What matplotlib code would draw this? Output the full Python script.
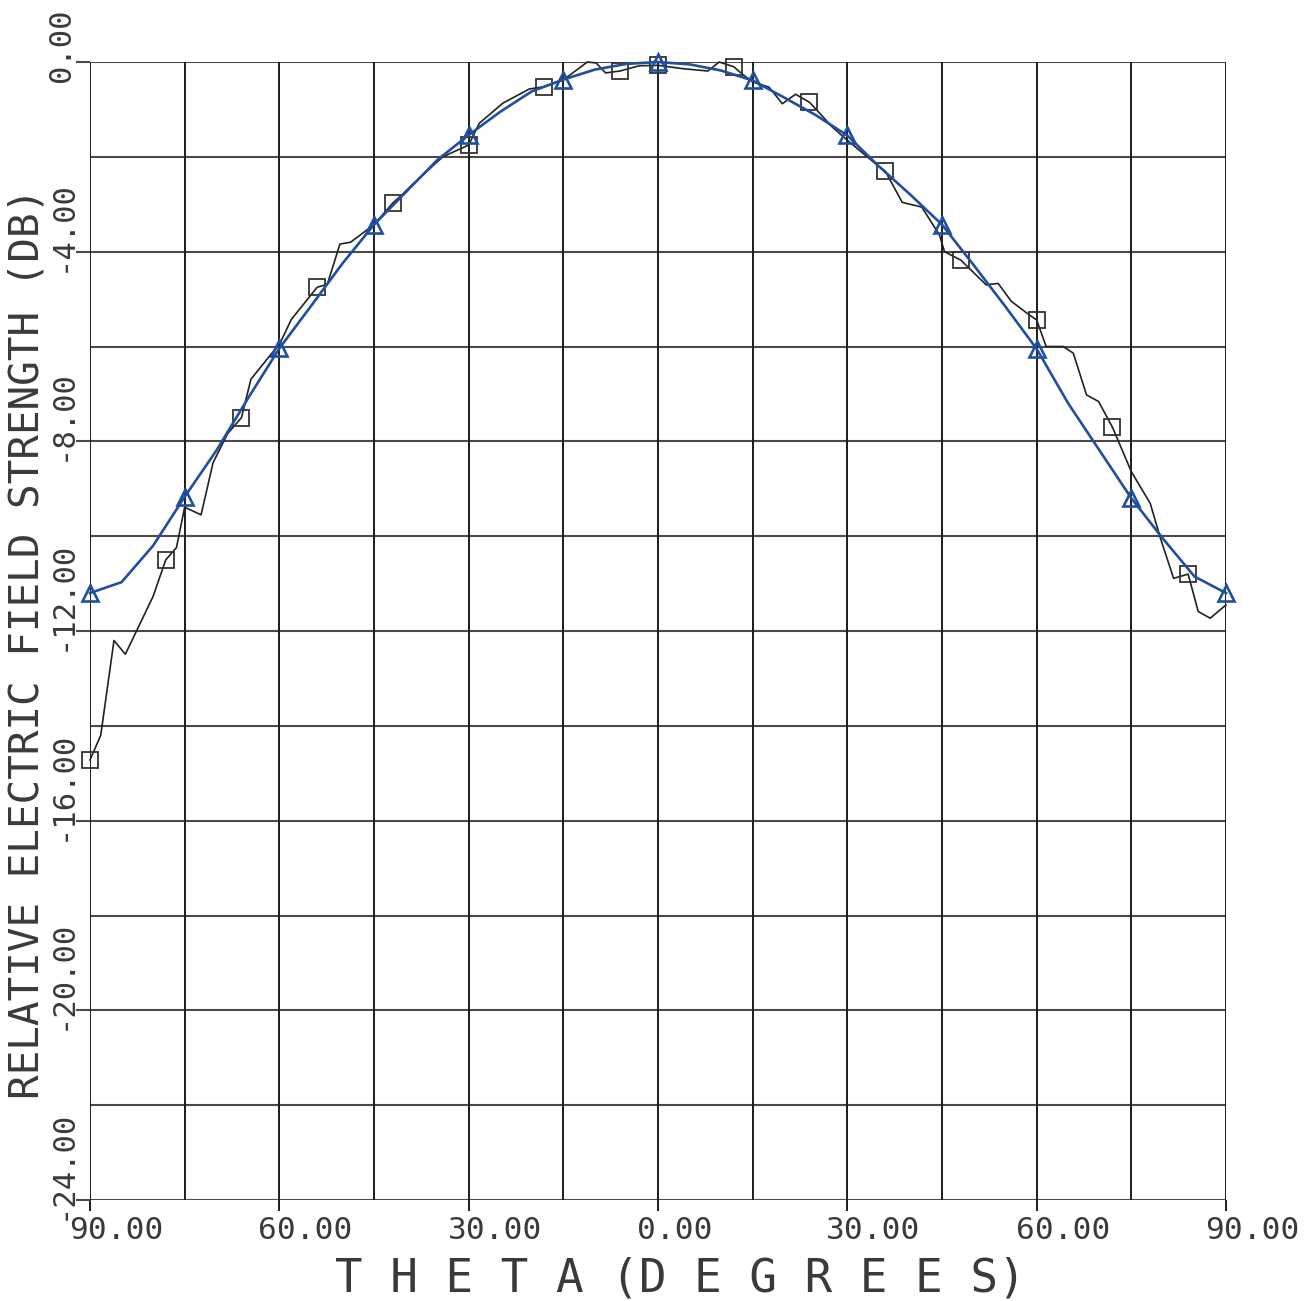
import numpy as np
import matplotlib
matplotlib.use("Agg")
import matplotlib.pyplot as plt
from matplotlib.transforms import blended_transform_factory

# ---------------- data ----------------
theory_theta = [-90, -85, -80, -75, -70, -65, -60, -55, -50, -45, -40, -35, -30, -25, -20,
                -15, -10, -5, 0, 5, 10, 15, 20, 25, 30, 35, 40, 45, 50, 55, 60, 65, 70,
                75, 80, 85, 90]
theory_db = [-11.2, -10.97, -10.2, -9.17, -8.2, -7.1, -6.04, -5.15, -4.25, -3.43, -2.75,
             -2.07, -1.54, -1.05, -0.62, -0.37, -0.16, -0.04, 0.0, -0.05, -0.18, -0.39,
             -0.75, -1.12, -1.55, -2.2, -2.8, -3.43, -4.28, -5.15, -6.05, -7.2, -8.2,
             -9.2, -10.05, -10.85, -11.2]
triangle_theta = [-90, -75, -60, -45, -30, -15, 0, 15, 30, 45, 60, 75, 90]

meas_theta = [-90, -88.3, -86.2, -84.4, -80.0, -78, -76.3, -75, -72.4, -70.5, -68.2, -66,
              -64.5, -61.3, -60, -58.1, -54, -52.4, -50.4, -48.7, -45, -42, -40.4, -38.8,
              -34.1, -30, -28.3, -24.6, -20.4, -18, -15, -11.2, -9.8, -8.3, -6, -3, 0,
              3.9, 7.9, 9.7, 12, 13.4, 15, 17.6, 19.7, 21.8, 24, 25, 27.6, 30, 34.5, 36,
              38.7, 41.8, 44.6, 45.4, 48, 52, 53.9, 56, 58.9, 60, 61.5, 64.2, 65.8, 67.9,
              69.8, 72, 75, 78, 79.6, 81.7, 84, 85.6, 87.5, 90]
meas_db = [-14.72, -14.2, -12.2, -12.49, -11.27, -10.5, -10.24, -9.39, -9.55, -8.45, -7.84,
           -7.5, -6.69, -6.16, -5.96, -5.43, -4.75, -4.69, -3.84, -3.80, -3.43, -2.97,
           -2.78, -2.57, -2.0, -1.75, -1.29, -0.87, -0.57, -0.52, -0.38, 0.0, -0.02, -0.23,
           -0.19, -0.08, -0.07, -0.14, -0.19, 0.0, -0.1, -0.26, -0.42, -0.53, -0.88, -0.68,
           -0.85, -0.99, -1.37, -1.65, -2.15, -2.3, -2.96, -3.06, -3.65, -4.0, -4.18, -4.70,
           -4.67, -5.05, -5.34, -5.44, -6.0, -6.0, -6.14, -7.02, -7.16, -7.7, -8.64, -9.31,
           -10.04, -10.89, -10.8, -11.59, -11.73, -11.45]
square_theta = [-90, -78, -66, -54, -42, -30, -18, -6, 0, 12, 24, 36, 48, 60, 72, 84]

x_tick_values = [-90, -60, -30, 0, 30, 60, 90]
x_tick_labels = ["90.00", "60.00", "30.00", "0.00", "30.00", "60.00", "90.00"]
y_tick_values = [0, -4, -8, -12, -16, -20, -24]
y_tick_labels = ["0.00", "-4.00", "-8.00", "-12.00", "-16.00", "-20.00", "-24.00"]
x_grid = list(range(-90, 91, 15))
y_grid = list(range(-24, 1, 2))

x_label = "T H E T A (D E G R E E S)"
y_label = "RELATIVE ELECTRIC FIELD STRENGTH (DB)"

# ---------------- figure ----------------
W, H, DPI = 1309, 1301, 100
fig = plt.figure(figsize=(W / DPI, H / DPI), dpi=DPI)
fig.patch.set_facecolor("white")
L, R, T, B = 90, 1226, 62, 1200
ax = fig.add_axes([L / W, 1 - B / H, (R - L) / W, (B - T) / H])
ax.set_xlim(-90, 90)
ax.set_ylim(-24, 0)

FONT = "DejaVu Sans Mono"
TXT = "#3a3a3a"
HGRID = "#4e4848"
VGRID = "#1c1c1c"
BLUE = "#1f4f9e"

for s in ax.spines.values():
    s.set_visible(False)

for g in y_grid:
    ax.axhline(g, color=HGRID, lw=1.5, zorder=1)
for g in x_grid:
    ax.axvline(g, color=VGRID, lw=1.4, zorder=1)

ax.set_xticks(x_tick_values)
ax.set_yticks(y_tick_values)
ax.tick_params(axis="x", direction="out", length=8, width=1.4, color=VGRID,
               labelbottom=False)
ax.tick_params(axis="y", direction="out", length=10, width=1.5, color=HGRID,
               labelleft=False)

# curves
tri_idx = [theory_theta.index(t) for t in triangle_theta]
ax.plot(theory_theta, theory_db, color=BLUE, lw=1.9, marker="^", markevery=tri_idx,
        ms=12, mfc="none", mec=BLUE, mew=1.9, zorder=4, clip_on=False)
sq_idx = [meas_theta.index(t) for t in square_theta]
ax.plot(meas_theta, meas_db, color="#222222", lw=1.2, marker="s", markevery=sq_idx,
        ms=12, mfc="none", mec="#333333", mew=1.3, zorder=3, clip_on=False)

# tick labels
pt = 72.0 / DPI
for v, lab in zip(x_tick_values, x_tick_labels):
    ax.annotate(lab, xy=(v, -24), xycoords="data", xytext=(-21 * pt, -16 * pt),
                textcoords="offset points", ha="left", va="top", fontsize=22.5,
                family=FONT, color=TXT, annotation_clip=False)
trans = blended_transform_factory(fig.transFigure, ax.transData)
for v, lab in zip(y_tick_values, y_tick_labels):
    ax.annotate(lab, xy=(62 / W, v), xycoords=trans, xytext=(0, -20 * pt),
                textcoords="offset points", ha="center", va="bottom", rotation=90,
                fontsize=22, family=FONT, color=TXT, annotation_clip=False)

# axis labels
fig.text(335 / W, 1 - 1279 / H, x_label, ha="left", va="center", fontsize=33,
         family=FONT, color=TXT)
fig.text(28 / W, 1 - 643 / H, y_label, ha="center", va="center", rotation=90,
         fontsize=29.5, family=FONT, color=TXT)

fig.savefig("out.png", dpi=DPI, facecolor="white")
